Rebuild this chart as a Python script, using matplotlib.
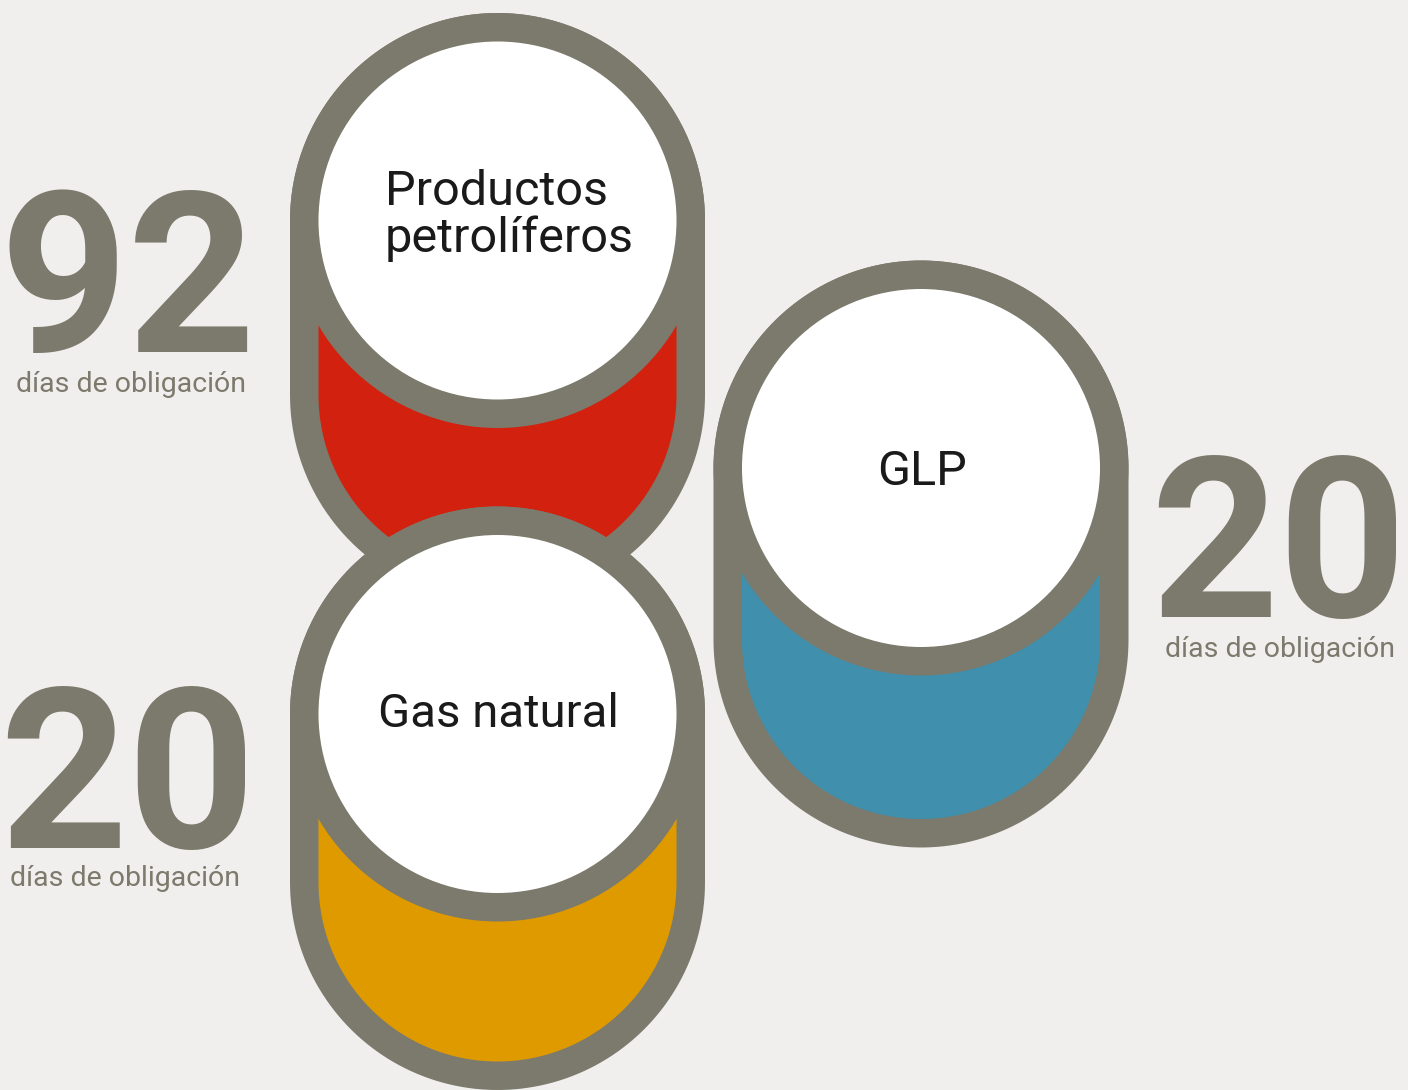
import matplotlib
matplotlib.use('Agg')
import numpy as np
import matplotlib.pyplot as plt
from matplotlib.patches import Circle, Polygon

# datos
etiquetas = ['Productos\npetrolíferos', 'Gas natural', 'GLP']
dias = [92, 20, 20]
colores = ['#d2220f', '#df9a00', '#3f8fad']
subtitulo = 'días de obligación'

# posiciones de los tanques (px): centro x, centro circulo superior, centro circulo inferior
tanques = [(497.5, 220.5, 395), (497.5, 714, 882.5), (921, 468, 640)]
# posiciones de los numeros: centro x, linea base numero, centro x subtitulo, linea base subtitulo
numeros = [(128, 352, 131.5, 392), (128, 848, 125, 886), (1279, 617, 1280, 657)]

gris = '#7b7a6c'
fondo = '#f0efed'
R_EXT, R_INT = 207.5, 179

fig = plt.figure(figsize=(14.08, 10.90), dpi=100, facecolor=fondo)
ax = fig.add_axes([0, 0, 1, 1])
ax.set_xlim(0, 1408)
ax.set_ylim(1090, 0)
ax.set_aspect('equal')
ax.axis('off')
ax.set_facecolor(fondo)


def capsula(cx, y1, y2, r, color, z):
    # semicirculo superior + semicirculo inferior
    t1 = np.linspace(np.pi, 2 * np.pi, 100)
    t2 = np.linspace(0, np.pi, 100)
    xs = np.concatenate([cx + r * np.cos(t1), cx + r * np.cos(t2)])
    ys = np.concatenate([y1 + r * np.sin(t1), y2 + r * np.sin(t2)])
    ax.add_patch(Polygon(np.column_stack([xs, ys]), closed=True,
                         facecolor=color, edgecolor='none', zorder=z))


for i, (cx, y1, y2) in enumerate(tanques):
    z = i * 5
    capsula(cx, y1, y2, R_EXT, gris, z + 1)
    capsula(cx, y1, y2, R_INT, colores[i], z + 2)
    ax.add_patch(Circle((cx, y1), R_EXT, facecolor=gris, edgecolor='none', zorder=z + 3))
    ax.add_patch(Circle((cx, y1), R_INT, facecolor='white', edgecolor='none', zorder=z + 4))

# textos dentro de los circulos
ax.text(385, 252, etiquetas[0], ha='left', va='baseline', fontsize=35,
        family='Roboto', color='#1a1a1a', linespacing=1.0, zorder=20)
ax.text(498, 727, etiquetas[1], ha='center', va='baseline', fontsize=34,
        family='Roboto', color='#1a1a1a', zorder=20)
ax.text(922, 485, etiquetas[2], ha='center', va='baseline', fontsize=35,
        family='Roboto', color='#1a1a1a', zorder=20)

# numeros grandes
for (x, yb, xs, ys), d in zip(numeros, dias):
    ax.text(x, yb, str(d), ha='center', va='baseline', fontsize=161,
            family='Roboto', weight='bold', color=gris, zorder=20)
    ax.text(xs, ys, subtitulo, ha='center', va='baseline', fontsize=20.5,
            family='Roboto', color=gris, zorder=20)

fig.savefig('out.png', dpi=100, facecolor=fondo)
